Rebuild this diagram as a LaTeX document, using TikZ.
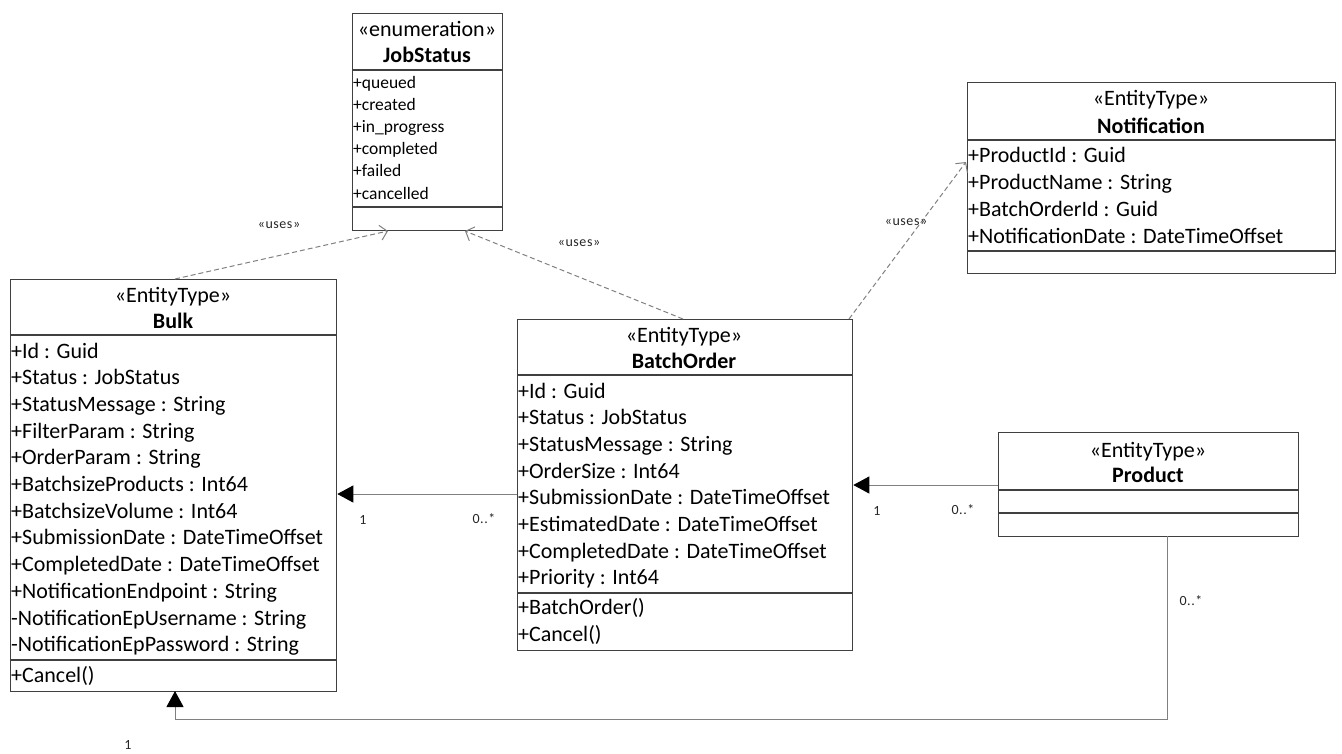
\documentclass[tikz,border=0pt]{standalone}
\usepackage{fontspec}
\setmainfont{Carlito}
\newfontfamily\smallfont[LetterSpace=4]{Carlito}
\usetikzlibrary{arrows.meta}
\tikzset{
  umlbox/.style={draw=black!75, line width=1.3pt, inner sep=0pt, anchor=north west},
  divider/.style={draw=black!75, line width=1.3pt},
  attr/.style={anchor=base west, inner sep=0pt, font=\fontsize{22}{26}\selectfont},
  enumattr/.style={anchor=base west, inner sep=0pt, font=\fontsize{17.5}{20}\selectfont},
  stereo/.style={anchor=base, inner sep=0pt, font=\fontsize{22}{26}\selectfont},
  cname/.style={anchor=base, inner sep=0pt, font=\fontsize{22}{26}\selectfont\bfseries},
  small/.style={inner sep=0pt, text=black!85, font=\smallfont\fontsize{14}{16}\selectfont},
  assoc/.style={draw=black!50, line width=1pt, -{Triangle[length=16pt,width=17pt,black]}},
  uses/.style={draw=black!50, line width=1pt, dash pattern=on 5pt off 3pt, -{Straight Barb[length=7pt,width=15pt]}}
}
\begin{document}
\begin{tikzpicture}[x=1pt,y=-1pt]
\useasboundingbox (0,0) rectangle (1342,753);
% ---------- JobStatus ----------
\node[umlbox, minimum width=150pt, minimum height=217pt] (job) at (352,13) {};
\draw[divider] (352,70) -- (502,70);
\draw[divider] (352,207) -- (502,207);
\node[stereo] (job-st) at (427,36) {«enumeration»};
\node[cname] (job-nm) at (427,62) {JobStatus};
\foreach [count=\i from 0] \t in {+queued,+created,+in\_progress,+completed,+failed,+cancelled}
  \node[enumattr] (job-a\i) at (353,88+22.2*\i) {\t};
% ---------- Notification ----------
\node[umlbox, minimum width=368pt, minimum height=191pt] (notif) at (967,82) {};
\draw[divider] (967,140) -- (1335,140);
\draw[divider] (967,251) -- (1335,251);
\node[stereo] (notif-st) at (1151,105) {«EntityType»};
\node[cname] (notif-nm) at (1151,133) {Notification};
\foreach [count=\i from 0] \t in {+ProductId : Guid,+ProductName : String,+BatchOrderId : Guid,+NotificationDate : DateTimeOffset}
  \node[attr] (notif-a\i) at (968,162+27*\i) {\t};
% ---------- Bulk ----------
\node[umlbox, minimum width=326pt, minimum height=412pt] (bulk) at (10,279) {};
\draw[divider] (10,335) -- (336,335);
\draw[divider] (10,660) -- (336,660);
\node[stereo] (bulk-st) at (173,302) {«EntityType»};
\node[cname] (bulk-nm) at (173,328) {Bulk};
\foreach [count=\i from 0] \t in {+Id : Guid,+Status : JobStatus,+StatusMessage : String,+FilterParam : String,+OrderParam : String,+BatchsizeProducts : Int64,+BatchsizeVolume : Int64,+SubmissionDate : DateTimeOffset,+CompletedDate : DateTimeOffset,+NotificationEndpoint : String,-NotificationEpUsername : String,-NotificationEpPassword : String}
  \node[attr] (bulk-a\i) at (11,358+26.7*\i) {\t};
\node[attr] (bulk-o0) at (11,682) {+Cancel()};
% ---------- BatchOrder ----------
\node[umlbox, minimum width=335pt, minimum height=331pt] (batch) at (517,319) {};
\draw[divider] (517,375) -- (852,375);
\draw[divider] (517,593) -- (852,593);
\node[stereo] (batch-st) at (684,342) {«EntityType»};
\node[cname] (batch-nm) at (684,368) {BatchOrder};
\foreach [count=\i from 0] \t in {+Id : Guid,+Status : JobStatus,+StatusMessage : String,+OrderSize : Int64,+SubmissionDate : DateTimeOffset,+EstimatedDate : DateTimeOffset,+CompletedDate : DateTimeOffset,+Priority : Int64}
  \node[attr] (batch-a\i) at (518,398+26.7*\i) {\t};
\node[attr] (batch-o0) at (518,614) {+BatchOrder()};
\node[attr] (batch-o1) at (518,641) {+Cancel()};
% ---------- Product ----------
\node[umlbox, minimum width=300pt, minimum height=104pt] (product) at (998,432) {};
\draw[divider] (998,490) -- (1298,490);
\draw[divider] (998,513) -- (1298,513);
\node[stereo] (prod-st) at (1148,457) {«EntityType»};
\node[cname] (prod-nm) at (1148,482) {Product};
% ---------- helper coordinates ----------
\coordinate (y494) at (0,494);
\coordinate (y485) at (0,485);
\coordinate (pbot) at (1167,536);
\coordinate (c1) at (1167,719);
\coordinate (c2) at (175,719);
\coordinate (bulkbot) at (175,691);
\coordinate (bulktop) at (175,279);
\coordinate (jobin1) at (388,231);
\coordinate (jobin2) at (465,231);
\coordinate (batchtop) at (683,319);
\coordinate (batchtr) at (849,319);
\coordinate (notifin) at (966,162);
% ---------- associations ----------
\draw[assoc] (batch.west |- y494) -- (bulk.east |- y494);
\draw[assoc] (product.west |- y485) -- (batch.east |- y485);
\draw[assoc] (pbot) -- (c1) -- (c2) -- (bulkbot);
\node[small] (m1) at (363,520) {1};
\node[small] (m2) at (484,519) {0..*};
\node[small] (m3) at (877,511) {1};
\node[small] (m4) at (963,510) {0..*};
\node[small] (m5) at (1191,601) {0..*};
\node[small] (m6) at (128,745) {1};
% ---------- dependencies ----------
\draw[uses] (bulktop) -- (jobin1);
\draw[uses] (batchtop) -- (jobin2);
\draw[uses] (batchtr) -- (notifin);
\node[small] (u1) at (279,225) {«uses»};
\node[small] (u2) at (579,243) {«uses»};
\node[small] (u3) at (906,222) {«uses»};
\end{tikzpicture}
\end{document}
